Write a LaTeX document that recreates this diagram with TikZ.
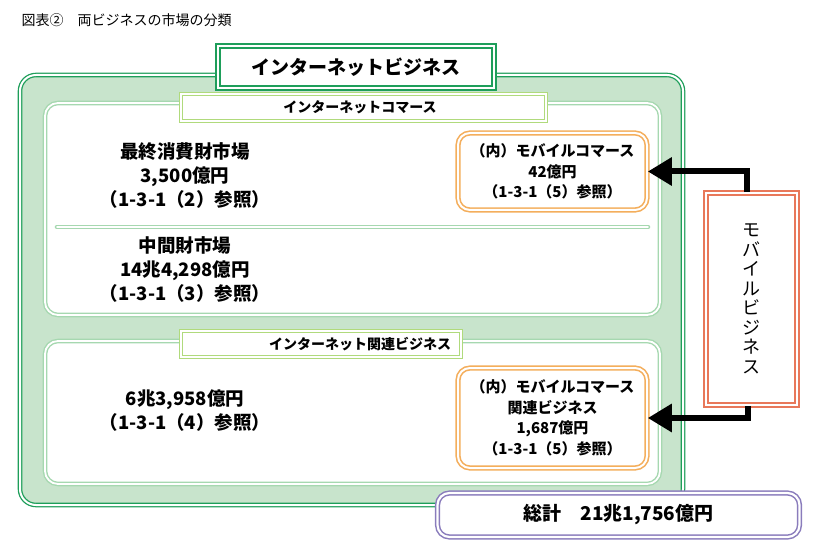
\documentclass[tikz,border=0pt]{standalone}
\usepackage{fontspec}
\setmainfont{Noto Sans CJK JP}
\usetikzlibrary{arrows.meta}

\definecolor{bggreen}{HTML}{C8E4CC}
\definecolor{dkgreen}{HTML}{1E9E5A}
\definecolor{pnlgreen}{HTML}{A6D8B0}
\definecolor{lblgreen}{HTML}{B0DA7C}
\definecolor{tagorange}{HTML}{F4AE5C}
\definecolor{mobred}{HTML}{E8785A}
\definecolor{sumpurple}{HTML}{8A7CBC}

\begin{document}
\begin{tikzpicture}[x=1pt, y=-1pt,
  frame/.style={draw=dkgreen, double=white, line width=1.3pt, double distance=2pt, fill=bggreen, rounded corners=16pt, inner sep=0pt},
  head/.style={draw=dkgreen, double=white, line width=1.4pt, double distance=2.4pt, fill=white, inner sep=0pt, font=\fontsize{19}{22}\selectfont\bfseries},
  panel/.style={draw=pnlgreen, double=white, line width=1.4pt, double distance=1.8pt, fill=white, rounded corners=13pt, inner sep=0pt},
  tab/.style={draw=lblgreen, double=white, line width=1.4pt, double distance=1.8pt, fill=white, inner sep=0pt},
  tag/.style={draw=tagorange, double=white, line width=1.6pt, double distance=2pt, fill=white, rounded corners=12pt, inner sep=0pt, minimum width=189pt, align=center, font=\fontsize{15}{20.5}\selectfont\bfseries},
  mobcell/.style={draw=mobred, double=white, line width=1.5pt, double distance=2.2pt, fill=white, inner sep=0pt, align=center, font=\fontsize{18}{19.5}\selectfont},
  sumcell/.style={draw=sumpurple, double=white, line width=1.5pt, double distance=2.2pt, fill=white, rounded corners=12pt, inner sep=0pt, font=\fontsize{19}{22}\selectfont\bfseries},
  bar/.style={draw=pnlgreen, double=white, line width=1.4pt, double distance=1.8pt, line cap=round},
  feed/.style={-{Triangle[length=24pt, width=27pt]}, line width=6pt},
  body/.style={align=center, font=\fontsize{18.5}{24}\selectfont\bfseries},
  note/.style={font=\fontsize{14}{16}\selectfont\bfseries}
]
\useasboundingbox (0,0) rectangle (814,553);

\node[anchor=west, font=\fontsize{14}{16}\selectfont] (title) at (18,20) {図表②　両ビジネスの市場の分類};

% outer frame and its heading
\node[frame, minimum width=663pt, minimum height=430pt] (net) at (351.5,290) {};
\node[head, minimum width=276pt, minimum height=42pt] (nethead) at (356,67) {インターネットビジネス};

% e-commerce panel
\node[panel, minimum width=615pt, minimum height=212pt] (ec) at (352.5,209) {};
\node[tab, minimum width=365pt, minimum height=27pt] (ectab) at (363.5,107.5) {};
\node[note] (eclabel) at (360,107.5) {インターネットコマース};
\draw[bar] (57,227) -- (648,227);

\node[body] (fin) at (185,176) {最終消費財市場\\3,500億円\\（1-3-1（2）参照）};
\node[body] (mid) at (185,270) {中間財市場\\14兆4,298億円\\（1-3-1（3）参照）};

% related business panel
\node[panel, minimum width=615pt, minimum height=143pt] (rb) at (352.5,412.5) {};
\node[tab, minimum width=280pt, minimum height=26pt] (rbtab) at (321,344) {};
\node[note] (rblabel) at (360,344) {インターネット関連ビジネス};

\node[body] (rel) at (185,410.5) {6兆3,958億円\\（1-3-1（4）参照）};

% mobile parts
\node[tag, minimum height=77pt] (tag1) at (552.5,171.5) {（内）モバイルコマース\\42億円\\（1-3-1（5）参照）};
\node[tag, minimum height=100pt] (tag2) at (552.5,418) {（内）モバイルコマース\\関連ビジネス\\1,687億円\\（1-3-1（5）参照）};

\node[mobcell, minimum width=91pt, minimum height=212pt] (mob) at (751.5,299) {モ\\バ\\イ\\ル\\ビ\\ジ\\ネ\\ス};

\draw[feed] ([xshift=-5pt]mob.north) |- (tag1.east);
\draw[feed] ([xshift=-4pt]mob.south) |- (tag2.east);

% total
\node[sumcell, minimum width=362pt, minimum height=44pt] (sum) at (618.5,515) {総計　21兆1,756億円};

\end{tikzpicture}
\end{document}
